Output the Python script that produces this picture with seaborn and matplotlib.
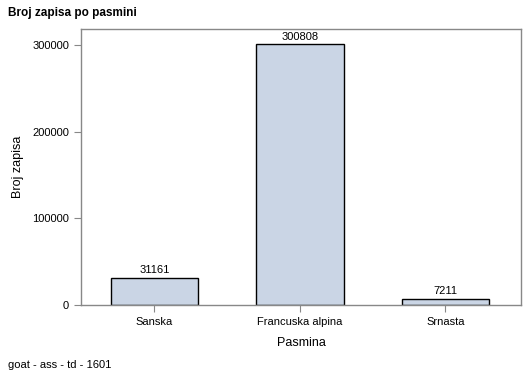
import matplotlib
matplotlib.use("Agg")
import matplotlib.pyplot as plt
import seaborn as sns
import pandas as pd

# podaci
pasmine = ["Sanska", "Francuska alpina", "Srnasta"]
broj_zapisa = [31161, 300808, 7211]

df = pd.DataFrame({"Pasmina": pasmine, "Broj zapisa": broj_zapisa})

sns.set_style("white")
plt.rcParams["font.family"] = ["Liberation Sans", "DejaVu Sans"]
plt.rcParams["text.color"] = "black"
plt.rcParams["axes.labelcolor"] = "black"
plt.rcParams["xtick.color"] = "black"
plt.rcParams["ytick.color"] = "black"

fig = plt.figure(figsize=(5.29, 3.78), dpi=100)
ax = fig.add_axes([0.153, 0.193, 0.832, 0.730])

sns.barplot(data=df, x="Pasmina", y="Broj zapisa", color="#CAD5E5",
            edgecolor="black", linewidth=1, width=0.6, saturation=1, ax=ax)

for i, v in enumerate(broj_zapisa):
    ax.text(i, v + 3000, str(v), ha="center", va="bottom", fontsize=8)

ax.set_xlim(-0.505, 2.52)
ax.set_ylim(0, 318462)
ax.set_yticks([0, 100000, 200000, 300000])
ax.set_yticklabels(["0", "100000", "200000", "300000"])
ax.set_xlabel("Pasmina", fontsize=9, labelpad=7)
ax.set_ylabel("Broj zapisa", fontsize=9, labelpad=6)
ax.tick_params(axis="both", labelsize=8, length=5, color="#888888", direction="out",
               left=True, bottom=True, labelcolor="black")
for s in ax.spines.values():
    s.set_color("#888888")
    s.set_linewidth(1)

fig.text(0.015, 0.965, "Broj zapisa po pasmini", fontsize=8.5, fontweight="bold",
         ha="left", va="center")
fig.text(0.015, 0.035, "goat - ass - td - 1601", fontsize=8, ha="left", va="center")

fig.savefig("out.png", dpi=100)
